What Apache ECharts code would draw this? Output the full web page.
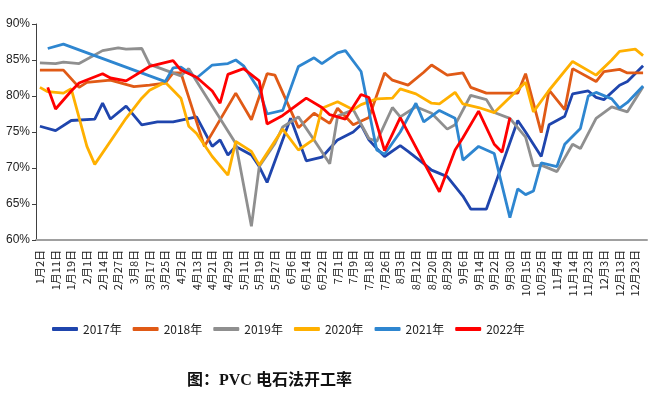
<!DOCTYPE html>
<html lang="zh">
<head>
    <meta charset="UTF-8">
    <title>PVC 电石法开工率</title>
    <script src="https://cdn.jsdelivr.net/npm/echarts@6/dist/echarts.min.js"></script>
    <style>
        html, body { margin: 0; padding: 0; background: #fff; }
    </style>
</head>
<body>
    <div id="main" style="width: 655px; height: 397px;"></div>
    <script type="text/javascript">
        // 刻度标签（每隔一个类目显示一个）
        var tickLabels = ['1月2日', '1月11日', '1月19日', '2月1日', '2月14日', '2月27日', '3月8日', '3月17日',
            '3月25日', '4月2日', '4月13日', '4月21日', '4月29日', '5月11日', '5月19日', '5月27日', '6月6日',
            '6月14日', '6月22日', '7月1日', '7月9日', '7月18日', '7月26日', '8月3日', '8月12日', '8月20日',
            '8月29日', '9月6日', '9月14日', '9月22日', '9月30日', '10月15日', '10月25日', '11月4日', '11月14日',
            '11月23日', '12月3日', '12月13日', '12月23日'];

        var years = ['2017年', '2018年', '2019年', '2020年', '2021年', '2022年'];
        var colors = ['#1f45ad', '#e05a16', '#8f8f8f', '#ffb000', '#2e86d0', '#ff0000'];

        var _ = null;
        var y2017 = [75.8, _, 75.2, _, 76.6, _, _, 76.8, 79.0, 76.8, _, 78.6, _, 76.0, _, 76.4, _, 76.4, _, _,
            77.1, _, 73.0, 73.9, 71.8, 73.0, _, 71.8, 70.2, 68.0, _, _, 76.9, _, 71.0, _, 71.5, 72.7, 73.9, _,
            75.0, 76.0, 73.9, 72.7, 71.6, _, 73.1, 72.3, _, 70.6, 69.7, _, 68.8, _, 66.1, 64.3, _, 64.3, _, _,
            _, 76.6, 75.0, _, 71.6, 76.0, _, 77.2, 80.3, _, 80.7, 79.8, 79.5, _, 81.5, 82.0, _, 84.2];
        var y2018 = [83.6, _, _, 83.6, _, 81.2, 81.9, _, _, 82.2, _, _, 81.3, _, 81.5, _, 81.8, 83.2, 83.2, 79.8,
            _, 73.0, _, _, _, 80.4, _, 76.7, _, 83.1, 82.9, _, _, 75.6, _, 77.6, _, 76.2, 78.3, _,
            76.0, _, 77.0, _, 83.2, 82.2, _, 81.5, _, 83.3, 84.3, _, 82.9, _, 83.2, 81.2, _, 80.4, _, _,
            _, 80.4, 83.1, _, 74.9, 80.8, _, 78.1, 83.8, _, _, 82.0, 83.4, _, 83.7, 83.2, _, 83.2];
        var y2019 = [84.6, _, 84.5, 84.7, _, 84.5, _, _, 86.3, _, 86.7, 86.5, _, 86.6, 84.4, _, 83.6, _, 82.8, 83.8,
            _, _, _, _, _, 73.4, _, 61.9, 70.2, _, 73.4, 75.7, _, 77.1, _, 73.9, _, 70.6, 77.2, _,
            78.1, _, 74.1, 73.7, _, 78.4, 77.1, _, 78.5, _, 77.6, _, 75.4, 76.0, _, 80.1, _, 79.5, 77.7, _,
            76.9, _, 74.3, 70.3, 70.4, _, 69.5, _, 73.3, 72.7, _, 76.9, _, 78.5, _, 77.8, _, 81.3];
        var y2020 = [81.2, 80.6, _, 80.4, 81.0, _, 73.0, 70.5, _, _, _, 76.9, _, 79.7, 80.8, _, 81.9, _, 79.7, 75.8,
            74.8, _, 71.6, _, 69.0, 73.7, _, 72.3, 70.4, _, _, 75.4, _, 72.5, _, 74.0, 78.3, _, 79.2, _,
            78.1, 78.8, _, 79.6, _, 79.7, 81.0, _, 80.3, _, 79.0, 78.9, _, 80.5, 78.9, _, 78.4, _, 77.7, _,
            _, _, 81.9, 77.8, _, 80.8, _, _, 84.8, _, _, 82.9, _, 85.0, 86.2, _, 86.5, 85.6];
        var y2021 = [_, 86.6, _, 87.2, _, _, _, _, _, _, _, _, _, _, _, _, 82.0, 83.9, 84.0, _,
            82.5, _, 84.3, _, 84.5, 85.0, 84.2, _, 80.8, 77.5, _, 78.0, _, 84.1, _, 85.3, 84.5, _, 86.0, 86.3,
            _, 83.4, _, 72.5, 71.9, _, 75.0, _, 79.0, 76.4, _, 78.0, _, 76.9, 71.1, _, 73.0, _, 72.0, _,
            63.1, 67.1, 66.3, 66.8, 70.7, _, 70.2, 73.3, _, 75.5, 80.0, 80.5, _, 79.6, 78.3, 79.1, _, 81.4];
        var y2022 = [_, 81.2, 78.2, _, 80.7, 81.8, _, _, 83.1, 82.5, _, 82.1, _, _, 84.1, _, _, 84.9, 83.6, _,
            82.6, _, 80.7, 79.0, 83.0, _, 83.8, _, 82.1, 76.1, _, 77.3, _, _, 79.7, _, 78.4, 77.4, _, 76.8,
            _, 80.2, 79.8, _, 72.4, _, 77.0, _, _, _, _, 66.7, _, 72.5, 74.2, _, 77.9, _, 73.3, 72.2,
            77.0, _, _, _, _, _, _, _, _, _, _, _, _, _, _, _, _, _];

        var seriesValues = [y2017, y2018, y2019, y2020, y2021, y2022];

        // 类目：标签放在偶数位，奇数位留空
        var categories = [];
        for (var i = 0; i < 78; i++) {
            categories.push(i % 2 === 0 && tickLabels[i / 2] ? tickLabels[i / 2] : '');
        }

        var chartDom = document.getElementById('main');
        var myChart = echarts.init(chartDom);
        var option;

        option = {
            animation: false,
            title: {
                text: '图：PVC 电石法开工率',
                left: 182,
                top: 368,
                textStyle: {
                    fontFamily: '"Liberation Serif", "Noto Sans CJK SC", serif',
                    fontSize: 16,
                    fontWeight: 'bold',
                    color: '#111'
                }
            },
            legend: {
                data: years,
                left: 47,
                top: 318,
                icon: 'roundRect',
                itemWidth: 26,
                itemHeight: 4,
                itemGap: 11,
                textStyle: {
                    fontFamily: '"Noto Sans CJK SC", sans-serif',
                    fontSize: 12,
                    color: '#222'
                }
            },
            grid: {
                left: 36,
                right: 8,
                top: 24,
                bottom: 157,
                containLabel: false
            },
            xAxis: {
                type: 'category',
                data: categories,
                boundaryGap: true,
                axisLine: { lineStyle: { color: '#a0a0a0', width: 2 } },
                axisTick: { show: false },
                axisLabel: {
                    interval: 0,
                    rotate: 90,
                    margin: 10,
                    fontSize: 11,
                    color: '#222',
                    fontFamily: '"Noto Sans CJK SC", sans-serif'
                },
                splitLine: { show: false }
            },
            yAxis: {
                type: 'value',
                min: 60,
                max: 90,
                interval: 5,
                axisLine: { show: true, lineStyle: { color: '#404040', width: 1 } },
                axisTick: { show: true, length: 4, lineStyle: { color: '#404040' } },
                axisLabel: {
                    formatter: '{value}%',
                    fontSize: 12,
                    color: '#222',
                    margin: 6,
                    fontFamily: '"Liberation Sans", Arial, sans-serif'
                },
                splitLine: { show: false }
            },
            series: years.map(function(name, k) {
                return {
                    name: name,
                    type: 'line',
                    data: seriesValues[k],
                    connectNulls: true,
                    showSymbol: false,
                    symbol: 'none',
                    color: colors[k],
                    lineStyle: { width: 2.8, color: colors[k] },
                    z: 2 + k
                };
            })
        };

        option && myChart.setOption(option);
    </script>
</body>
</html>
